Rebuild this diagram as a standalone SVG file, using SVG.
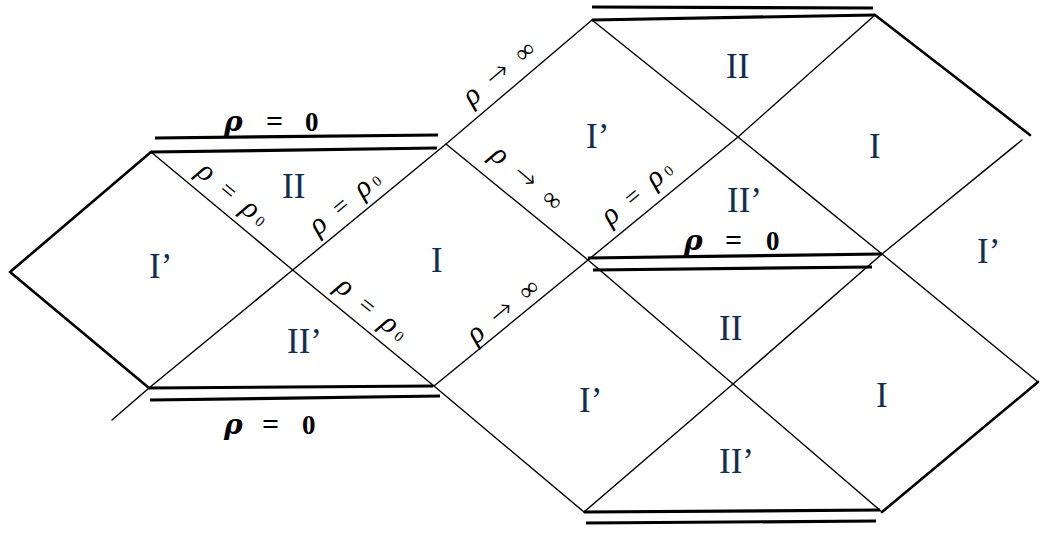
<svg xmlns="http://www.w3.org/2000/svg" width="1040" height="533" viewBox="0 0 1040 533">
<style>
.thin{fill:none;stroke:#000;stroke-width:1.4;stroke-linecap:round;stroke-linejoin:round}
.thick{fill:none;stroke:#000;stroke-width:2.6;stroke-linecap:round;stroke-linejoin:round}
.sing{fill:none;stroke:#000;stroke-width:3.2}
.reg{font-family:"Liberation Serif",serif;font-size:35px;fill:#0e2f55}
.r0{font-family:"Liberation Serif",serif;font-size:27px;font-weight:bold;fill:#000}
.r0 .p{font-family:"DejaVu Serif",serif;font-style:italic;font-size:28px}
.r0 .e{font-size:30px}
.rl{font-family:"Liberation Serif",serif;font-size:26px;fill:#000;letter-spacing:4px}
.ri{font-family:"Liberation Serif",serif;font-size:26px;fill:#000;letter-spacing:4px}
.gp{font-style:italic;font-size:30px}
.ar{font-family:"DejaVu Sans",sans-serif;font-size:28px;font-weight:200}
.sub{font-size:15px}
</style>
<rect width="1040" height="533" fill="#fff"/>
<g id="connectors">
<polyline class="thin" points="112,420 149,388 292.7,270 446,144 592,20"/>
<polyline class="thin" points="151,152 292.7,270 434,386 584,512"/>
<polyline class="thin" points="446,144 588,260 733,384 882,512"/>
<polyline class="thin" points="434,386 588,260 738,137 875,15"/>
<polyline class="thin" points="592,20 738,137 882,254 1038,382"/>
<polyline class="thin" points="584,512 733,384 882,254 1022,140"/>
<polyline class="thick" points="151,152 10,272 149,388"/>
<line class="thick" x1="875" y1="15" x2="1030" y2="135"/>
<line class="thick" x1="1038" y1="382" x2="882" y2="512"/>
</g>
<g id="singularities">
<line class="sing" x1="151" y1="152" x2="437" y2="148"/>
<line class="sing" x1="155" y1="138" x2="438" y2="135"/>
<line class="sing" x1="149" y1="388" x2="433" y2="386"/>
<line class="sing" x1="150" y1="400" x2="440" y2="396"/>
<line class="sing" x1="592" y1="20" x2="875" y2="15"/>
<line class="sing" x1="592" y1="7" x2="873" y2="8"/>
<line class="sing" x1="588" y1="258" x2="882" y2="254"/>
<line class="sing" x1="593" y1="270" x2="872" y2="267"/>
<line class="sing" x1="584" y1="512" x2="880" y2="510"/>
<line class="sing" x1="586" y1="523" x2="876" y2="521"/>
</g>
<g id="rho0-labels">
<text class="r0" y="131"><tspan class="p" x="224">ρ</tspan><tspan class="e" x="266">=</tspan><tspan x="305">0</tspan></text>
<text class="r0" y="434"><tspan class="p" x="224">ρ</tspan><tspan class="e" x="262">=</tspan><tspan x="302">0</tspan></text>
<text class="r0" y="250"><tspan class="p" x="684">ρ</tspan><tspan class="e" x="725">=</tspan><tspan x="766">0</tspan></text>
</g>
<g id="rho-rho0-labels">
<text class="rl" text-anchor="middle" transform="translate(229,202) rotate(39.7)"><tspan class="gp">ρ</tspan> = <tspan class="gp">ρ</tspan><tspan class="sub">0</tspan></text>
<text class="rl" text-anchor="middle" transform="translate(352,208) rotate(-39.5)"><tspan class="gp">ρ</tspan> = <tspan class="gp">ρ</tspan><tspan class="sub">0</tspan></text>
<text class="rl" text-anchor="middle" transform="translate(368,317) rotate(39.5)"><tspan class="gp">ρ</tspan> = <tspan class="gp">ρ</tspan><tspan class="sub">0</tspan></text>
<text class="rl" text-anchor="middle" transform="translate(644,198) rotate(-40)"><tspan class="gp">ρ</tspan> = <tspan class="gp">ρ</tspan><tspan class="sub">0</tspan></text>
</g>
<g id="rho-inf-labels">
<text class="ri" text-anchor="middle" transform="translate(506,78) rotate(-40)"><tspan class="gp">ρ</tspan> <tspan class="ar">→</tspan> ∞</text>
<text class="ri" text-anchor="middle" transform="translate(523,186) rotate(40)"><tspan class="gp">ρ</tspan> <tspan class="ar">→</tspan> ∞</text>
<text class="ri" text-anchor="middle" transform="translate(510,316) rotate(-40)"><tspan class="gp">ρ</tspan> <tspan class="ar">→</tspan> ∞</text>
</g>
<g id="region-left-Iprime"><text class="reg" x="149" y="278">I’</text></g>
<g id="region-left-II"><text class="reg" x="282" y="198">II</text></g>
<g id="region-left-IIprime"><text class="reg" x="287" y="353">II’</text></g>
<g id="region-mid-I"><text class="reg" x="431" y="272">I</text></g>
<g id="region-top-Iprime"><text class="reg" x="586" y="148">I’</text></g>
<g id="region-top-II"><text class="reg" x="726" y="78">II</text></g>
<g id="region-top-I"><text class="reg" x="869" y="158">I</text></g>
<g id="region-top-IIprime"><text class="reg" x="727" y="212">II’</text></g>
<g id="region-right-Iprime"><text class="reg" x="977" y="263">I’</text></g>
<g id="region-low-II"><text class="reg" x="719" y="340">II</text></g>
<g id="region-low-Iprime"><text class="reg" x="579" y="412">I’</text></g>
<g id="region-low-I"><text class="reg" x="876" y="407">I</text></g>
<g id="region-low-IIprime"><text class="reg" x="719" y="473">II’</text></g>
</svg>
